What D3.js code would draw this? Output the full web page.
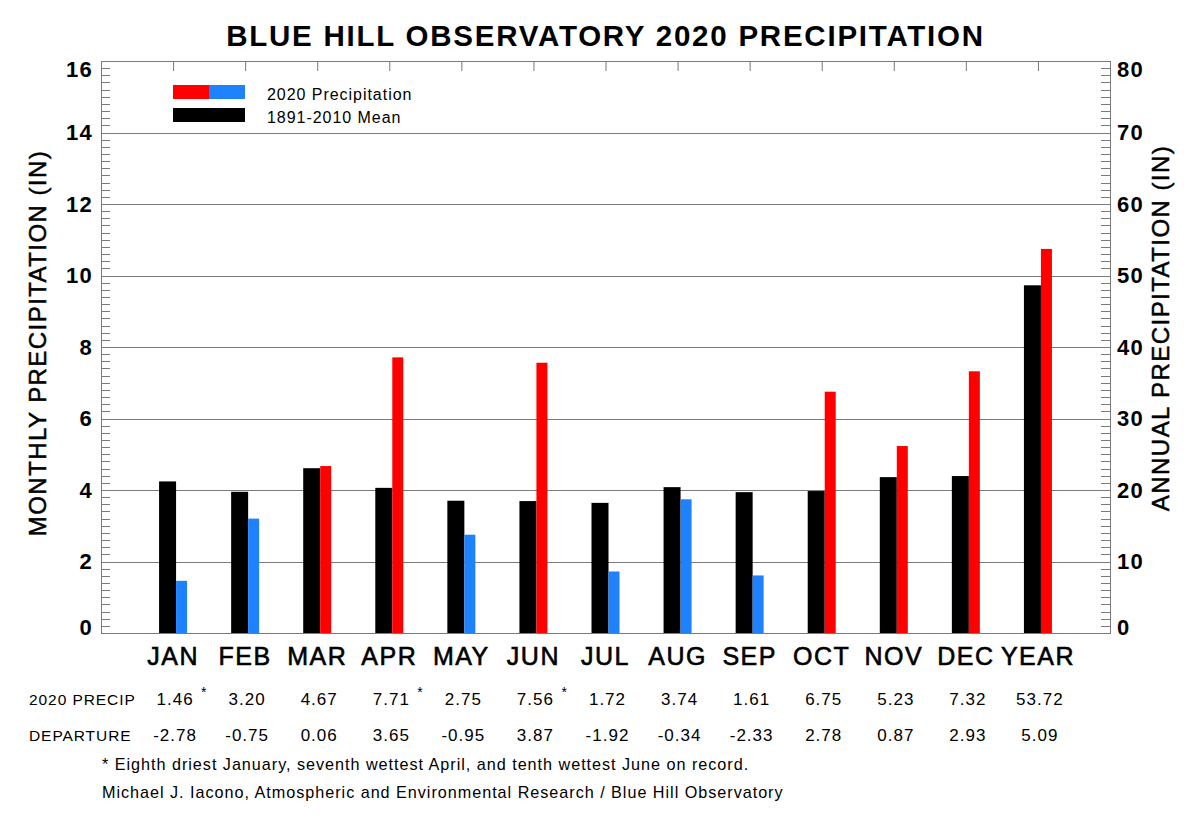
<!DOCTYPE html>
<html lang="en">
<head>
  <meta charset="UTF-8">
  <title>Blue Hill Observatory 2020 Precipitation</title>
  <script src="https://d3js.org/d3.v7.min.js"></script>
  <style>
    body { margin: 0; background: #fff; }
    text { font-family: "Liberation Sans", Arial, sans-serif; letter-spacing: 0.06em; fill: #000; }
  </style>
</head>
<body>
<div class="canvas"></div>
<script>
  // data
  const months = ['JAN', 'FEB', 'MAR', 'APR', 'MAY', 'JUN', 'JUL', 'AUG', 'SEP', 'OCT', 'NOV', 'DEC', 'YEAR']
  const precip = [1.46, 3.20, 4.67, 7.71, 2.75, 7.56, 1.72, 3.74, 1.61, 6.75, 5.23, 7.32, 53.72]
  const departure = [-2.78, -0.75, 0.06, 3.65, -0.95, 3.87, -1.92, -0.34, -2.33, 2.78, 0.87, 2.93, 5.09]
  const mean = [4.24, 3.95, 4.61, 4.06, 3.70, 3.69, 3.64, 4.08, 3.94, 3.97, 4.36, 4.39, 48.63]
  const starred = ['JAN', 'APR', 'JUN']
  const leftTicks = [0, 2, 4, 6, 8, 10, 12, 14, 16]
  const rightTicks = [0, 10, 20, 30, 40, 50, 60, 70, 80]

  const W = 1200, H = 830
  const pLeft = 101, pRight = 1110, pTop = 61, pBottom = 633

  const svg = d3.select('.canvas')
    .append('svg')
    .attr('width', W)
    .attr('height', H)

  const x = d3.scalePoint().domain(months).range([pLeft, pRight]).padding(1)
  const y = d3.scaleLinear().domain([0, 16]).range([pBottom, pTop])
  const yR = d3.scaleLinear().domain([0, 80]).range([pBottom, pTop])
  // the YEAR bars use the right-hand scale
  const yFor = (m, v) => m === 'YEAR' ? yR(v) : y(v)

  const gray = '#7a7a7a'

  // horizontal grid lines at the major ticks
  svg.append('g')
    .selectAll('line')
    .data(leftTicks)
    .enter()
    .append('line')
    .attr('x1', pLeft).attr('x2', pRight)
    .attr('y1', d => Math.round(y(d)) + 0.5).attr('y2', d => Math.round(y(d)) + 0.5)
    .attr('stroke', gray)
    .attr('stroke-width', 1)

  // minor ticks, left and right
  const minor = d3.range(0, 16.001, 0.2)
  svg.append('g')
    .selectAll('line')
    .data(minor)
    .enter()
    .append('line')
    .attr('x1', pLeft).attr('x2', pLeft + 9)
    .attr('y1', d => Math.round(y(d)) + 0.5).attr('y2', d => Math.round(y(d)) + 0.5)
    .attr('stroke', gray)
  svg.append('g')
    .selectAll('line')
    .data(minor)
    .enter()
    .append('line')
    .attr('x1', pRight - 9).attr('x2', pRight)
    .attr('y1', d => Math.round(y(d)) + 0.5).attr('y2', d => Math.round(y(d)) + 0.5)
    .attr('stroke', gray)

  // top / bottom category ticks
  svg.append('g')
    .attr('transform', `translate(0, ${pTop})`)
    .call(d3.axisTop(x).tickSize(-10).tickFormat(''))
    .call(g => g.selectAll('line, path').attr('stroke', gray))
  svg.append('g')
    .attr('transform', `translate(0, ${pBottom})`)
    .call(d3.axisBottom(x).tickSize(-10).tickFormat(''))
    .call(g => g.selectAll('line, path').attr('stroke', gray))

  // frame
  svg.append('rect')
    .attr('x', pLeft + 0.5).attr('y', pTop + 0.5)
    .attr('width', pRight - pLeft).attr('height', pBottom - pTop)
    .attr('fill', 'none')
    .attr('stroke', gray)

  // bars
  const bars = svg.append('g')
  bars.selectAll('rect.mean')
    .data(months)
    .enter()
    .append('rect')
    .attr('class', 'mean')
    .attr('x', d => x(d) - 14)
    .attr('width', 17)
    .attr('y', (d, i) => yFor(d, mean[i]))
    .attr('height', (d, i) => pBottom - yFor(d, mean[i]))
    .attr('fill', '#000')
  bars.selectAll('rect.obs')
    .data(months)
    .enter()
    .append('rect')
    .attr('class', 'obs')
    .attr('x', d => x(d) + 3)
    .attr('width', 11)
    .attr('y', (d, i) => yFor(d, precip[i]))
    .attr('height', (d, i) => pBottom - yFor(d, precip[i]))
    .attr('fill', (d, i) => departure[i] >= 0 ? '#ff0000' : '#1e82ff')

  // tick labels (end labels kept inside the axis range, like the original)
  const clampY = v => Math.max(pTop + 8, Math.min(pBottom - 6, v))
  svg.append('g')
    .selectAll('text')
    .data(leftTicks)
    .enter()
    .append('text')
    .attr('x', 93)
    .attr('y', d => clampY(y(d)))
    .attr('dy', '0.36em')
    .attr('text-anchor', 'end')
    .attr('font-size', 22)
    .attr('font-weight', 'bold')
    .text(d => d)
  svg.append('g')
    .selectAll('text')
    .data(rightTicks)
    .enter()
    .append('text')
    .attr('x', 1117)
    .attr('y', d => clampY(yR(d)))
    .attr('dy', '0.36em')
    .attr('font-size', 22)
    .attr('font-weight', 'bold')
    .text(d => d)

  // title and axis titles
  svg.append('text')
    .attr('x', (pLeft + pRight) / 2).attr('y', 46)
    .attr('text-anchor', 'middle')
    .attr('font-size', 29.5)
    .attr('font-weight', 'bold')
    .text('BLUE HILL OBSERVATORY 2020 PRECIPITATION')
  svg.append('text')
    .attr('transform', 'translate(46, 343) rotate(-90)')
    .attr('text-anchor', 'middle')
    .attr('font-size', 24)
    .attr('stroke', '#000').attr('stroke-width', 0.5)
    .text('MONTHLY PRECIPITATION (IN)')
  svg.append('text')
    .attr('transform', 'translate(1169, 328) rotate(-90)')
    .attr('text-anchor', 'middle')
    .attr('font-size', 24)
    .attr('stroke', '#000').attr('stroke-width', 0.5)
    .text('ANNUAL PRECIPITATION (IN)')

  // legend
  const lg = svg.append('g')
  lg.append('rect').attr('x', 173).attr('y', 85).attr('width', 36).attr('height', 14).attr('fill', '#ff0000')
  lg.append('rect').attr('x', 209).attr('y', 85).attr('width', 36).attr('height', 14).attr('fill', '#1e82ff')
  lg.append('rect').attr('x', 173).attr('y', 108).attr('width', 72).attr('height', 14).attr('fill', '#000')
  lg.append('text').attr('x', 267).attr('y', 100).attr('font-size', 16).text('2020 Precipitation')
  lg.append('text').attr('x', 267).attr('y', 123).attr('font-size', 16).text('1891-2010 Mean')

  // month labels
  svg.append('g')
    .selectAll('text')
    .data(months)
    .enter()
    .append('text')
    .attr('x', d => x(d))
    .attr('y', 665)
    .attr('text-anchor', 'middle')
    .attr('font-size', 25)
    .attr('stroke', '#000').attr('stroke-width', 0.6)
    .text(d => d)

  // table rows
  svg.append('text').attr('x', 29).attr('y', 705).attr('font-size', 15.5).text('2020 PRECIP')
  svg.append('text').attr('x', 29).attr('y', 741).attr('font-size', 15.5).text('DEPARTURE')
  svg.append('g')
    .selectAll('text')
    .data(months)
    .enter()
    .append('text')
    .attr('x', d => x(d) + 2)
    .attr('y', 705)
    .attr('text-anchor', 'middle')
    .attr('font-size', 17)
    .text((d, i) => precip[i].toFixed(2))
  svg.append('g')
    .selectAll('text')
    .data(starred)
    .enter()
    .append('text')
    .attr('x', d => x(d) + 28)
    .attr('y', 697)
    .attr('font-size', 14)
    .text('*')
  svg.append('g')
    .selectAll('text')
    .data(months)
    .enter()
    .append('text')
    .attr('x', d => x(d) + 2)
    .attr('y', 741)
    .attr('text-anchor', 'middle')
    .attr('font-size', 17)
    .text((d, i) => departure[i].toFixed(2))

  // footnotes
  svg.append('text').attr('x', 102).attr('y', 770).attr('font-size', 16.2)
    .text('* Eighth driest January, seventh wettest April, and tenth wettest June on record.')
  svg.append('text').attr('x', 102).attr('y', 798).attr('font-size', 16.2)
    .text('Michael J. Iacono, Atmospheric and Environmental Research / Blue Hill Observatory')
</script>
</body>
</html>
